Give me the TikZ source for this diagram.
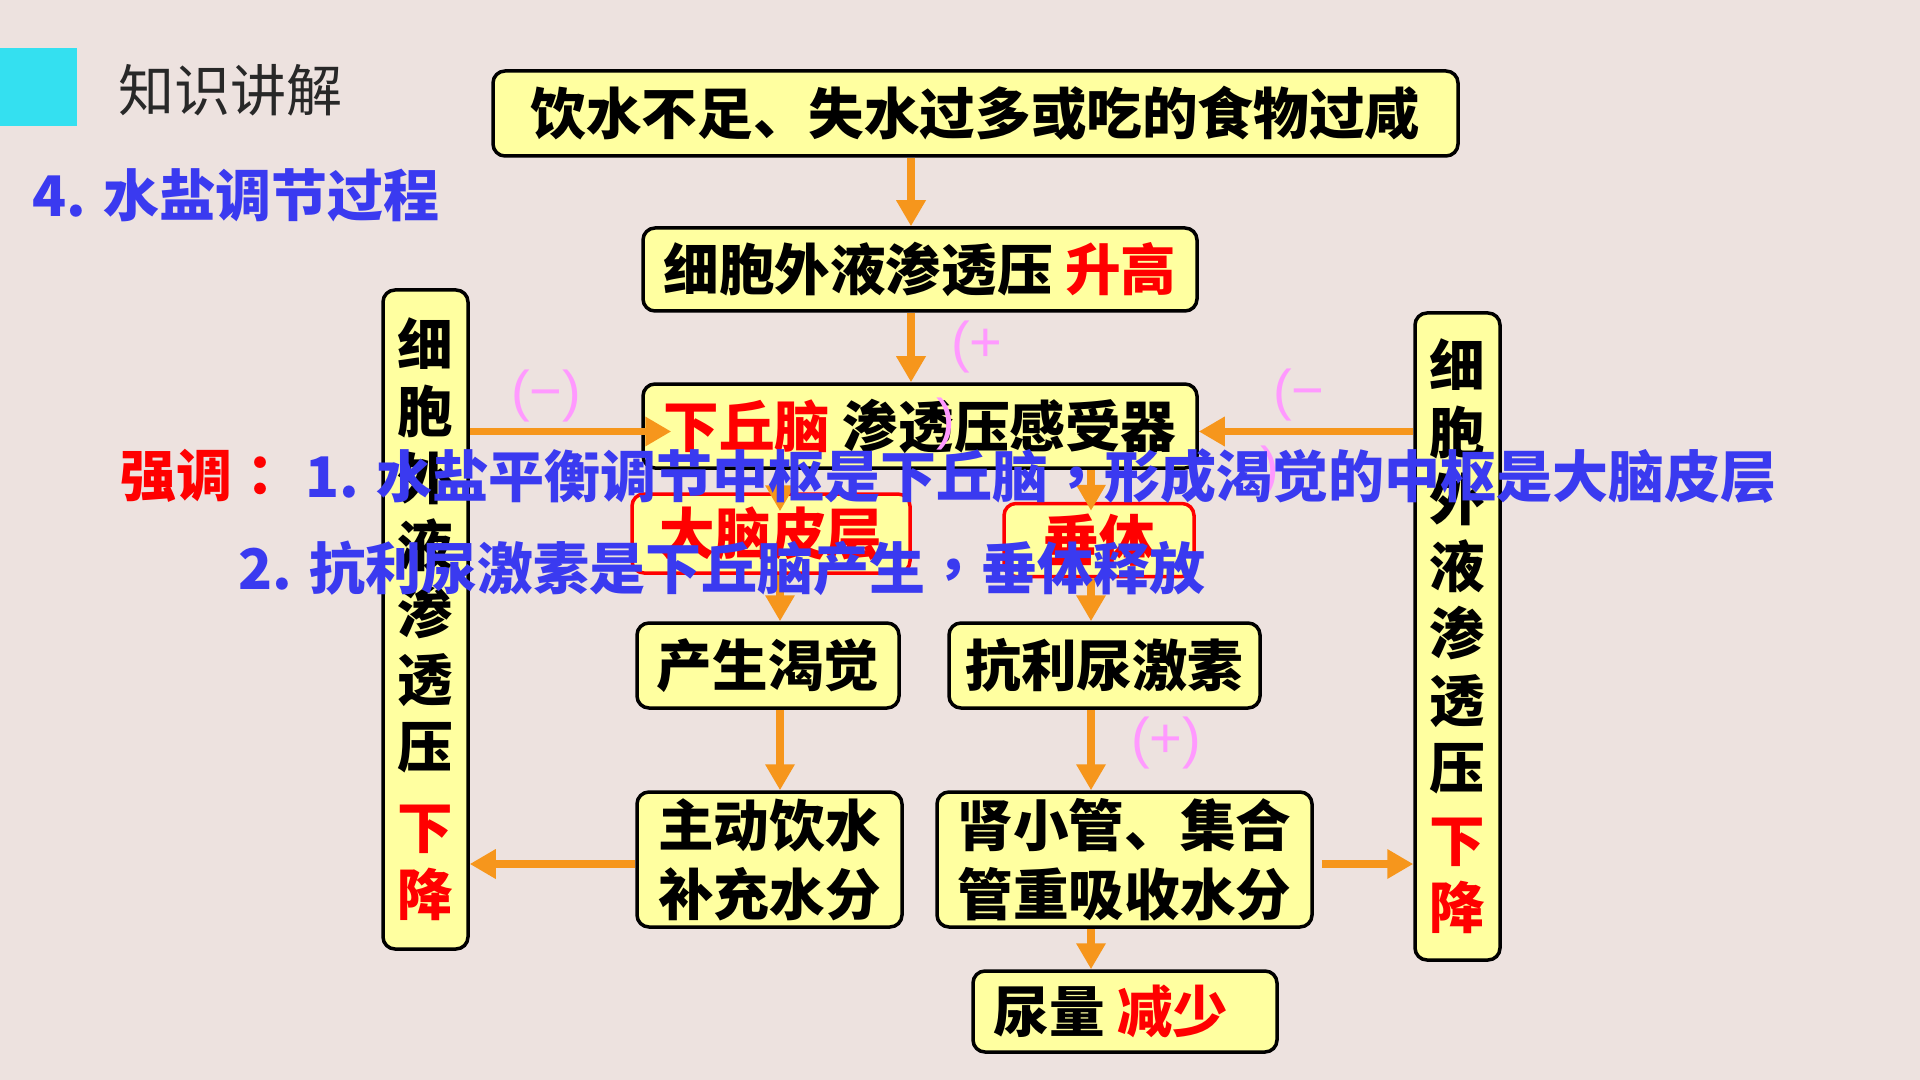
\documentclass[tikz,border=0pt]{standalone}
\usepackage{fontspec}
\usetikzlibrary{arrows.meta}
\newfontfamily\cjk{Noto Sans CJK SC}
\newfontfamily\cjktc{Noto Sans CJK TC}
\newfontfamily\pinkf{Liberation Sans}
\definecolor{bgc}{RGB}{237,226,223}
\definecolor{boxc}{RGB}{255,255,160}
\definecolor{orc}{RGB}{246,150,28}
\definecolor{pkc}{RGB}{255,153,255}
\definecolor{blc}{RGB}{58,58,240}
\definecolor{rdc}{RGB}{255,0,0}
\definecolor{cyc}{RGB}{52,224,240}
\definecolor{gyc}{RGB}{40,40,40}
\newcommand\bxf{\cjk\bfseries\fontsize{27.8}{33.5}\selectfont}
\newcommand\tallf{\cjk\bfseries\fontsize{27.8}{33.5}\selectfont}
\newcommand\ovf{\cjk\bfseries\fontsize{28}{34}\selectfont}
\newcommand\tcc{{\cjktc\bfseries ，}}
\begin{document}
\begin{tikzpicture}[x=0.5pt,y=-0.5pt,
  box/.style={draw=black, line width=1.75pt, fill=boxc, rounded corners=6pt,
    font=\bxf, inner sep=3pt, align=center},
  rbox/.style={box, draw=rdc, text=rdc},
  tall/.style={box, minimum width=42.5pt, font=\tallf},
  arr/.style={draw=orc, line width=3.6pt, -{Triangle[width=14pt,length=13pt]}},
  pinklab/.style={text=pkc, font=\pinkf\fontsize{28}{30}\selectfont, inner sep=0pt},
  over/.style={font=\ovf, inner sep=0pt, anchor=west}]
\useasboundingbox (0,0) rectangle (1920,1080);
\fill[bgc] (0,0) rectangle (1920,1080);
\fill[cyc] (0,48) rectangle (77,126);

\node[inner sep=0pt, anchor=west, text=gyc, font=\cjk\fontsize{28}{30}\selectfont] (hdr) at (118,90) {知识讲解};
\node[over, text=blc] (ttl) at (32,195) {4. 水盐调节过程};

% boxes
\node[box, minimum width=482.5pt, minimum height=42.5pt] (b1) at (975.5,113.5) {饮水不足、失水过多或吃的食物过咸};
\node[box, minimum width=277pt, minimum height=41.5pt] (b2) at (920,269.5) {细胞外液渗透压 \textcolor{rdc}{升高}};
\node[box, minimum width=277pt, minimum height=42pt] (b3) at (920,426) {\textcolor{rdc}{下丘脑} 渗透压感受器};
\node[rbox, minimum width=139pt, minimum height=39.5pt] (dn) at (771,533.5) {大脑皮层};
\node[rbox, minimum width=95pt, minimum height=36.5pt] (ct) at (1099,540) {垂体};
\node[box, minimum width=131pt, minimum height=42.5pt] (kc) at (768,665.5) {产生渴觉};
\node[box, minimum width=155.5pt, minimum height=42.5pt] (adh) at (1104.5,665.5) {抗利尿激素};
\node[box, minimum width=132.5pt, minimum height=67.5pt, font=\cjk\bfseries\fontsize{27.8}{34.5}\selectfont] (drink) at (769.5,859.5) {主动饮水\\补充水分};
\node[box, minimum width=187.5pt, minimum height=67.5pt, font=\cjk\bfseries\fontsize{27.8}{34.5}\selectfont] (kid) at (1124.5,859.5) {肾小管、集合\\管重吸收水分};
\node[box, minimum width=152pt, minimum height=40.5pt] (ur) at (1125,1011.5) {尿量 \textcolor{rdc}{减少}\hspace*{14pt}};
\node[tall, minimum height=329.5pt] (L) at (425.5,619.5) {细\\胞\\外\\液\\渗\\透\\压\\[7pt]\textcolor{rdc}{下}\\\textcolor{rdc}{降}};
\node[tall, minimum height=323.5pt] (R) at (1457.5,636.5) {细\\胞\\外\\液\\渗\\透\\压\\[3pt]\textcolor{rdc}{下}\\\textcolor{rdc}{降}};

% helper lines
\coordinate (xa) at (911,0);
\coordinate (xb) at (780,0);
\coordinate (xc) at (1091,0);
\coordinate (ya) at (0,431.5);
\coordinate (yb) at (0,864);

% arrows
\draw[arr] (b1.south -| xa) -- (b2.north -| xa);
\draw[arr] (b2.south -| xa) -- (b3.north -| xa);
\draw[arr, shorten >=-9.5pt] (b3.south -| xb) -- (dn.north -| xb);
\draw[arr, shorten >=-4.5pt] (b3.south -| xc) -- (ct.north -| xc);
\draw[arr] (dn.south -| xb) -- (kc.north -| xb);
\draw[arr] (ct.south -| xc) -- (adh.north -| xc);
\draw[arr] (kc.south -| xb) -- (drink.north -| xb);
\draw[arr] (adh.south -| xc) -- (kid.north -| xc);
\draw[arr] (kid.south -| xc) -- (ur.north -| xc);
\draw[arr] (drink.west |- yb) -- (L.east |- yb);
\draw[arr, shorten <=4pt] (kid.east |- yb) -- (R.west |- yb);
\draw[arr, shorten >=-15pt] (L.east |- ya) -- (b3.west |- ya);
\draw[arr] (R.west |- ya) -- (b3.east |- ya);

% pink labels
\node[pinklab] (p1) at (546,396) {(−)};
\node[pinklab] (p2) at (977,347) {(+};
\node[pinklab] (p2b) at (946,424) {)};
\node[pinklab] (p3) at (1299,395) {(−};
\node[pinklab] (p3b) at (1270,472) {)};
\node[pinklab] (p4) at (1166,743) {(+)};

% overlay emphasis
\node[over, text=rdc] (em0) at (120,476) {强调{\cjktc\bfseries ：}};
\node[over, text=blc] (em1) at (305,476) {1. 水盐平衡调节中枢是下丘脑\tcc 形成渴觉的中枢是大脑皮层};
\node[over, text=blc] (em2) at (238,568) {2. 抗利尿激素是下丘脑产生\tcc 垂体释放};
\end{tikzpicture}
\end{document}
